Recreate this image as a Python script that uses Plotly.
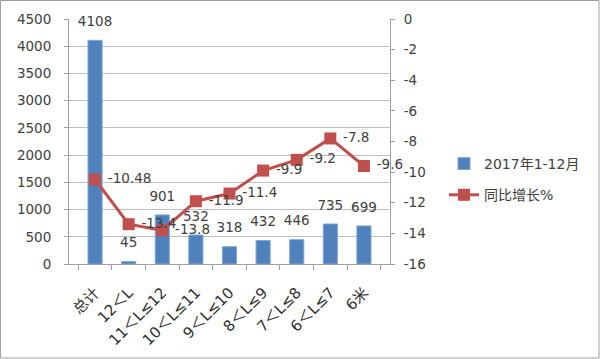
import plotly.graph_objects as go

categories = ["总计", "12＜L", "11＜L≤12", "10＜L≤11", "9＜L≤10", "8＜L≤9", "7＜L≤8", "6＜L≤7", "6米"]
sales_2017 = [4108, 45, 901, 532, 318, 432, 446, 735, 699]
yoy_growth = [-10.48, -13.4, -13.8, -11.9, -11.4, -9.9, -9.2, -7.8, -9.6]
left_ticks = list(range(0, 4501, 500))
right_ticks = list(range(-16, 1, 2))

FONT = "'DejaVu Sans', 'Noto Sans CJK SC', sans-serif"
TXT = "#404040"
FS = 13.5

fig = go.Figure()
fig.add_trace(go.Bar(
    x=categories, y=sales_2017, name="2017年1-12月", legendgroup="a",
    marker=dict(color="#4F81BD", line=dict(color="#7FA6D6", width=1)),
    width=0.42, hoverinfo="x+y",
))
# data labels for the bars (placed above bar tops)
fig.add_trace(go.Scatter(
    x=categories, y=sales_2017, mode="markers+text", showlegend=False,
    marker=dict(size=16, opacity=0), hoverinfo="skip",
    text=[str(v) for v in sales_2017], textposition="top center",
    textfont=dict(size=FS, color=TXT), cliponaxis=False,
))
fig.add_trace(go.Scatter(
    x=categories, y=yoy_growth, name="同比增长%", yaxis="y2", legendgroup="b",
    mode="lines+markers+text",
    line=dict(color="#C0504D", width=3),
    marker=dict(symbol="square", size=12, color="#C0504D"),
    text=[" " + str(v) for v in yoy_growth], textposition="middle right",
    textfont=dict(size=FS, color=TXT), cliponaxis=False,
))

fig.update_layout(
    width=600, height=359,
    margin=dict(l=69, r=210, t=19, b=95, autoexpand=False),
    paper_bgcolor="white", plot_bgcolor="white",
    font=dict(family=FONT, size=FS, color=TXT),
    showlegend=True,
    legend=dict(xref="container", yref="container", x=0.74, y=0.5,
                xanchor="left", yanchor="middle",
                tracegroupgap=10,
                font=dict(size=14, color=TXT), bgcolor="rgba(0,0,0,0)"),
    xaxis=dict(type="category", tickangle=-45, showgrid=False, automargin=False,
               showline=True, linecolor="#A0A0A0", ticks="outside",
               tickson="boundaries", ticklen=5, tickcolor="#A0A0A0",
               ticklabelstandoff=13,
               tickfont=dict(size=15, color="#303030")),
    yaxis=dict(range=[0, 4500], tickvals=left_ticks, showgrid=True, automargin=False,
               gridcolor="#BFBFBF", showline=True, linecolor="#A0A0A0",
               ticks="outside", ticklen=4, tickcolor="#A0A0A0",
               ticklabelstandoff=10,
               tickfont=dict(size=FS, color=TXT), zeroline=False),
    yaxis2=dict(range=[-16, 0], tickvals=right_ticks,
                ticktext=[str(v) for v in right_ticks], overlaying="y",
                side="right", showgrid=False, showline=True, automargin=False,
                linecolor="#A0A0A0", ticks="outside", ticklen=4,
                tickcolor="#A0A0A0", zeroline=False, ticklabelstandoff=6,
                tickfont=dict(size=FS, color=TXT)),
    bargap=0.6,
)
fig.add_shape(type="rect", xref="paper", yref="paper",
              x0=-68.5/321, x1=(599-69)/321, y0=-(358-264)/245, y1=1+18.5/245,
              line=dict(color="#A0A0A0", width=1), layer="below")
fig.write_html("out.html", config={"displayModeBar": False},
               post_script="document.body.style.margin='0';document.body.style.overflow='hidden';")
